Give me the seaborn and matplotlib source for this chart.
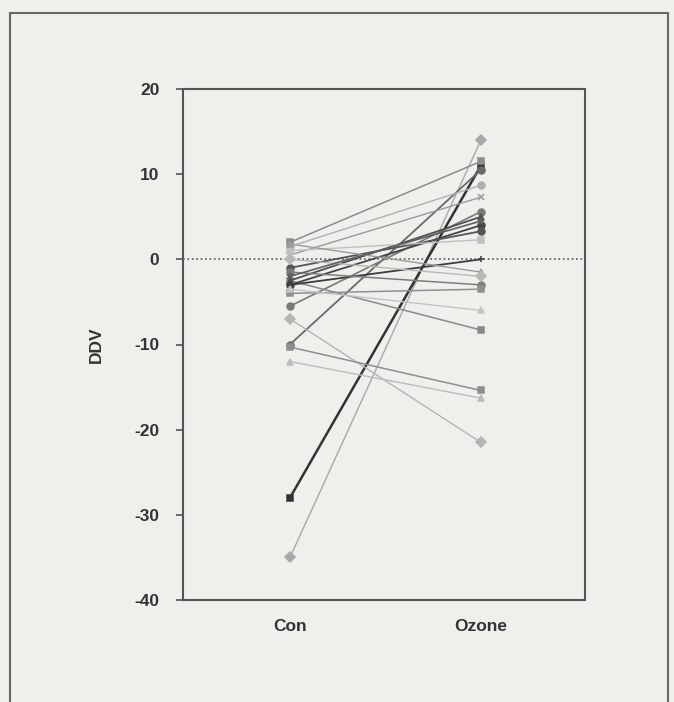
import matplotlib
matplotlib.use("Agg")
import matplotlib.pyplot as plt
import seaborn as sns
import pandas as pd
from matplotlib.patches import Rectangle

categories = ["Con", "Ozone"]
con_values = [-35.0, -28.0, -10.0, -5.5, -7.0, -10.3, -12.0, -2.5, 2.0, 1.5,
              0.5, -2.5, -3.0, -1.0, 1.0, -3.0, 1.8, -1.5, -4.0, 0.0, -2.0, -3.5]
ozone_values = [14.0, 11.0, 10.5, 5.6, -21.5, -15.4, -16.3, -8.3, 11.5, 8.7,
                7.3, 5.0, 4.0, 3.3, 2.3, 0.0, -1.5, -3.0, -3.5, -2.0, 4.5, -6.0]
yticks = [-40, -30, -20, -10, 0, 10, 20]

colors = ["#a8a8a8", "#333333", "#6a6a6a", "#7a7a7a", "#b4b4b4", "#8e8e8e",
          "#bcbcbc", "#8a8a8a", "#8c8c8c", "#b0b0b0", "#9a9a9a", "#505050",
          "#444444", "#555555", "#c0c0c0", "#3c3c3c", "#9c9c9c", "#7c7c7c",
          "#909090", "#b8b8b8", "#606060", "#c4c4c4"]
markers = ["D", "s", "o", "o", "D", "s", "^", "s", "s", "o", "x", "^",
           "o", "o", "s", "+", "^", "o", "s", "D", "*", "^"]
widths = [1.0, 1.8, 1.3, 1.2, 1.0, 1.1, 1.0, 1.1, 1.1, 1.0, 1.0, 1.3,
          1.3, 1.3, 1.0, 1.3, 1.0, 1.1, 1.1, 1.0, 1.2, 1.0]

sns.set_style("white")
plt.rcParams["font.family"] = ["Liberation Sans", "DejaVu Sans"]

bg = "#eff0ec"
fig = plt.figure(figsize=(6.74, 7.02), dpi=100, facecolor=bg)
ax = fig.add_axes([183 / 674, 1 - 600 / 702, (585 - 183) / 674, (600 - 89) / 702])
ax.set_facecolor(bg)

ax.axhline(0, color="#555555", linestyle=":", linewidth=1.2, zorder=1)

for i, (c, o) in enumerate(zip(con_values, ozone_values)):
    df = pd.DataFrame({"cond": [0, 1], "val": [c, o]})
    sns.lineplot(data=df, x="cond", y="val", ax=ax, color=colors[i],
                 linewidth=widths[i], marker=markers[i], markersize=5,
                 markeredgecolor=colors[i], markeredgewidth=1.1, zorder=3)

ax.set_xlim(-0.56, 1.545)
ax.set_ylim(-40, 20)
ax.set_yticks(yticks)
ax.set_yticklabels([str(t) for t in yticks], fontsize=12.5, fontweight="bold",
                   color="#333333")
ax.set_xticks([0, 1])
ax.set_xticklabels(categories, fontsize=12.5, fontweight="bold", color="#333333")
ax.tick_params(axis="y", direction="out", length=5, width=1.2, color="#555555",
               left=True, pad=12)
ax.tick_params(axis="x", length=0, pad=14)
ax.set_xlabel("")
ax.set_ylabel("DDV", fontsize=12.5, fontweight="bold", color="#333333", labelpad=22)
for s in ax.spines.values():
    s.set_visible(True)
    s.set_color("#555555")
    s.set_linewidth(1.5)

fig.patches.append(Rectangle((10 / 674, -0.05), (668 - 10) / 674, 1.05 - 13 / 702,
                             transform=fig.transFigure, fill=False,
                             edgecolor="#666666", linewidth=1.5))

fig.savefig("out.png", dpi=100, facecolor=bg)
